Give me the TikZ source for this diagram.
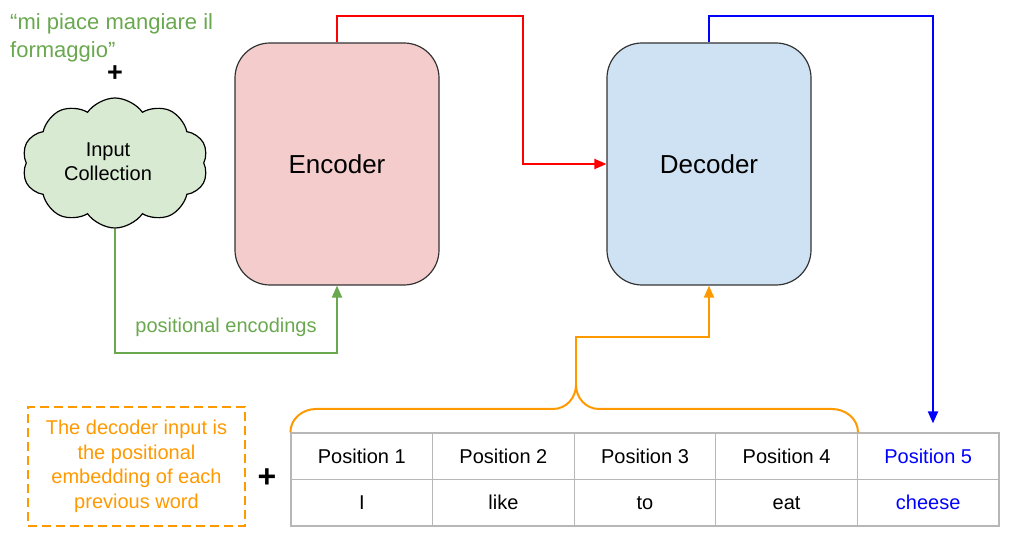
\documentclass[tikz,border=0pt]{standalone}
\usepackage{fontspec}
\setmainfont{Liberation Sans}
\usetikzlibrary{arrows.meta,shapes.symbols,calc}
\definecolor{gtext}{HTML}{6AA84F}
\definecolor{cloudfill}{HTML}{D9EAD3}
\definecolor{encfill}{HTML}{F4CCCC}
\definecolor{decfill}{HTML}{CFE2F3}
\definecolor{orng}{HTML}{FF9900}
\definecolor{tgray}{HTML}{B7B7B7}
\definecolor{outl}{HTML}{333333}
\tikzset{
  coderbox/.style={draw=outl, line width=1.2pt, rounded corners=35pt, minimum width=204pt, minimum height=242pt, font=\fontsize{26}{30}\selectfont},
  cell/.style={draw=tgray, line width=1.2pt, minimum width=141.6pt, minimum height=46.5pt, inner sep=0pt, font=\fontsize{20}{24}\selectfont},
  conn/.style={line width=2pt, -{Triangle[length=12pt,width=10pt]}},
  txt/.style={font=\fontsize{20}{24}\selectfont, align=center, inner sep=0pt}
}
\begin{document}
\begin{tikzpicture}[x=1pt,y=-1pt]
\useasboundingbox (0,0) rectangle (1018,537);
% top left text
\node[anchor=north west, inner sep=0pt, align=left, text=gtext, font=\fontsize{22}{28}\selectfont] (quote) at (10,13) {“mi piace mangiare il\\formaggio”};
\node[inner sep=0pt, font=\fontsize{27}{30}\selectfont\bfseries] (plus1) at (115,74) {+};
% cloud
\node[cloud, cloud puffs=10, cloud puff arc=110, aspect=1.45, draw=black, line width=1.2pt, fill=cloudfill, minimum width=186pt, minimum height=130pt, inner sep=0pt] (cloud) at (115,163) {};
\node[txt] (cloudtxt) at (108,162) {Input\\Collection};
% encoder / decoder
\node[coderbox, fill=encfill] (enc) at (337,164) {Encoder};
\node[coderbox, fill=decfill] (dec) at (709,164) {Decoder};
% table
\foreach \i/\w [count=\k] in {1/I,2/like,3/to,4/eat} {
  \node[cell] (p\k) at ({291+141.6*(\k-0.5)},456.25) {Position \i};
  \node[cell] (w\k) at ({291+141.6*(\k-0.5)},502.75) {\w};
}
\node[cell, text=blue] (p5) at ({291+141.6*4.5},456.25) {Position 5};
\node[cell, text=blue] (w5) at ({291+141.6*4.5},502.75) {cheese};
% dashed box
\node[draw=orng, dashed, dash pattern=on 9pt off 5pt, line width=2pt, minimum width=217pt, minimum height=119pt, text=orng, font=\fontsize{20}{24.5}\selectfont, align=center, inner sep=0pt] (note) at (136.5,466.5) {The decoder input is\\the positional\\embedding of each\\previous word};
\node[inner sep=0pt, font=\fontsize{32}{36}\selectfont\bfseries] (plus2) at (267,478) {+};
% red connector
\coordinate (r1) at (523,16);
\draw[conn, red] (enc.north) |- (r1) |- (dec.west);
% blue connector
\coordinate (b1) at (933,16);
\draw[conn, blue, shorten >=9pt] (dec.north) |- (b1) -- (b1 |- p5.north);
% green connector
\coordinate (g1) at (337,353);
\draw[conn, gtext] (cloud.south) |- (g1) -- (enc.south);
\node[txt, text=gtext] (poslab) at (226,327) {positional encodings};
% orange brace
\coordinate (brtip) at (576,385);
\draw[orng, line width=2pt] (p1.north west) to[out=90,in=180] (316,409) -- (553,409) to[out=0,in=-90] (brtip) to[out=-90,in=180] (599,409) -- (832,409) to[out=0,in=90] (p4.north east);
\coordinate (o1) at (576,337);
\draw[conn, orng] (brtip) -- (o1) -| (dec.south);
\end{tikzpicture}
\end{document}
